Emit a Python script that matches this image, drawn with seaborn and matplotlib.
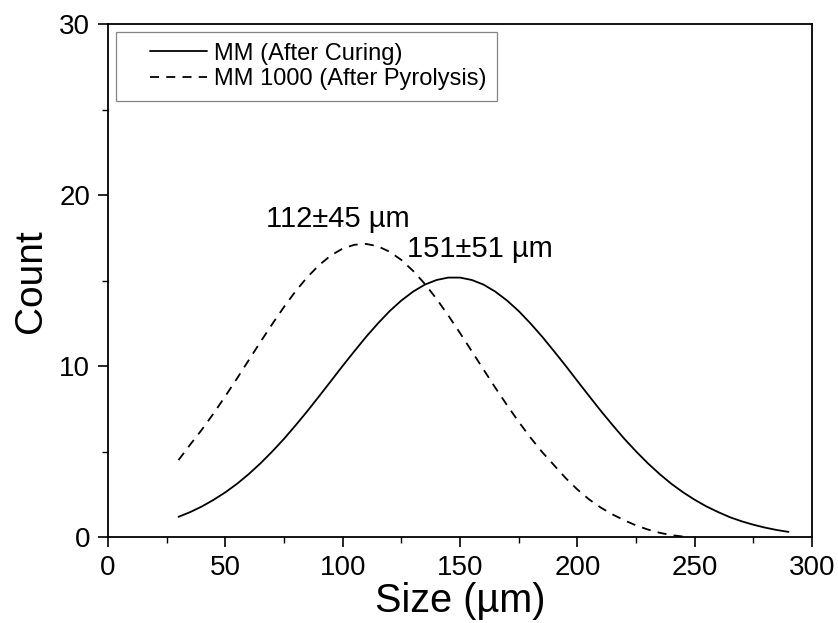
import numpy as np
import pandas as pd
import matplotlib.pyplot as plt
import seaborn as sns
from matplotlib.ticker import MultipleLocator
from matplotlib.legend_handler import HandlerLine2D

# sizes in um, counts (5 um steps)
size_cured = [30, 35, 40, 45, 50, 55, 60, 65, 70, 75, 80, 85, 90, 95, 100, 105, 110, 115, 120,
              125, 130, 135, 140, 145, 150, 155, 160, 165, 170, 175, 180, 185, 190, 195, 200,
              205, 210, 215, 220, 225, 230, 235, 240, 245, 250, 255, 260, 265, 270, 275, 280,
              285, 290]
count_cured = [1.18, 1.46, 1.79, 2.18, 2.62, 3.12, 3.69, 4.32, 5.01, 5.75, 6.55, 7.38, 8.25,
               9.13, 10.02, 10.88, 11.72, 12.5, 13.22, 13.84, 14.36, 14.77, 15.04, 15.18, 15.18,
               15.04, 14.77, 14.36, 13.84, 13.22, 12.5, 11.72, 10.88, 10.02, 9.13, 8.25, 7.38,
               6.55, 5.75, 5.01, 4.32, 3.69, 3.12, 2.62, 2.18, 1.79, 1.46, 1.16, 0.92, 0.72,
               0.55, 0.41, 0.3]

size_pyro = [30, 35, 40, 45, 50, 55, 60, 65, 70, 75, 80, 85, 90, 95, 100, 105, 110, 115, 120,
             125, 130, 135, 140, 145, 150, 155, 160, 165, 170, 175, 180, 185, 190, 195, 200,
             205, 210, 215, 220, 225, 230, 235, 240, 245]
count_pyro = [4.5, 5.41, 6.29, 7.24, 8.25, 9.29, 10.36, 11.43, 12.47, 13.47, 14.4, 15.22, 15.92,
              16.48, 16.88, 17.1, 17.15, 17.01, 16.69, 16.21, 15.57, 14.81, 13.93, 12.96, 11.93,
              10.87, 9.8, 8.74, 7.72, 6.74, 5.82, 4.97, 4.21, 3.45, 2.78, 2.2, 1.72, 1.32, 0.98,
              0.68, 0.44, 0.25, 0.11, 0.03]

labels = ["MM (After Curing)", "MM 1000 (After Pyrolysis)"]
annotations = [("112\u00b145 \u00b5m", 98, 18.15), ("151\u00b151 \u00b5m", 158.5, 16.4)]


class IndentHandler(HandlerLine2D):
    # legend line drawn only in the right part of the handle box (Origin-style indent)
    def __init__(self, indent, **kw):
        super().__init__(**kw)
        self.indent = indent

    def create_artists(self, legend, orig_handle, xdescent, ydescent, width, height, fontsize, trans):
        off = self.indent * fontsize
        return super().create_artists(legend, orig_handle, xdescent - off, ydescent,
                                      width - off, height, fontsize, trans)


sns.set_style("ticks")
plt.rcParams['font.family'] = ['Liberation Sans', 'DejaVu Sans']
plt.rcParams['text.color'] = 'black'
plt.rcParams['axes.labelcolor'] = 'black'
plt.rcParams['xtick.color'] = 'black'
plt.rcParams['ytick.color'] = 'black'

fig = plt.figure(figsize=(8.38, 6.23), dpi=100)
ax = fig.add_axes([0.129, 0.138, 0.840, 0.823])

df_c = pd.DataFrame({"size": size_cured, "count": count_cured})
df_p = pd.DataFrame({"size": size_pyro, "count": count_pyro})
sns.lineplot(data=df_c, x="size", y="count", ax=ax, color="black", lw=1.3, label=labels[0])
sns.lineplot(data=df_p, x="size", y="count", ax=ax, color="black", lw=1.3,
             linestyle=(0, (5, 4)), label=labels[1])

for txt, x, y in annotations:
    ax.text(x, y, txt, ha="center", va="baseline", fontsize=21)

ax.set_xlim(0, 300)
ax.set_ylim(0, 30)
ax.xaxis.set_major_locator(MultipleLocator(50))
ax.xaxis.set_minor_locator(MultipleLocator(25))
ax.yaxis.set_major_locator(MultipleLocator(10))
ax.yaxis.set_minor_locator(MultipleLocator(5))
ax.tick_params(which="major", length=7, width=1.2, labelsize=20, pad=6, direction="out")
ax.tick_params(which="minor", length=4, width=1.0, direction="out")
for sp in ax.spines.values():
    sp.set_visible(True)
    sp.set_linewidth(1.3)
    sp.set_color("black")

ax.set_xlabel("Size (\u00b5m)", fontsize=28.5, labelpad=1)
ax.set_ylabel("Count", fontsize=28, labelpad=7)

handles, lbls = ax.get_legend_handles_labels()
leg = ax.legend(handles, lbls, loc="upper left", fontsize=17, frameon=True, fancybox=False,
                handlelength=3.41, borderaxespad=0.33, borderpad=0.45,
                labelspacing=0.15, handletextpad=0.3,
                handler_map={h: IndentHandler(1.0) for h in handles})
leg.get_frame().set_edgecolor("#666666")
leg.get_frame().set_linewidth(0.9)

fig.savefig("out.png", dpi=100)
plt.close()
